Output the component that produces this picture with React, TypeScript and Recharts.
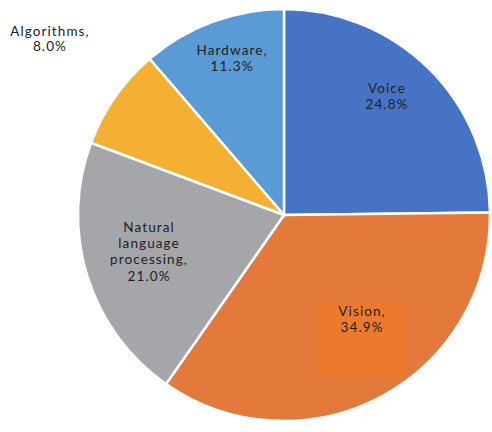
import { Pie, PieChart, Cell } from "recharts";

const CATEGORIES = ["Voice", "Vision", "Natural language processing", "Algorithms", "Hardware"];
const SHARES = [24.8, 34.9, 21.0, 8.0, 11.3];
const LABEL_LINES = [
  ["Voice", "24.8%"],
  ["Vision,", "34.9%"],
  ["Natural", "language", "processing,", "21.0%"],
  ["Algorithms,", "8.0%"],
  ["Hardware,", "11.3%"],
];

const COLORS = ["#4673c4", "#e4793c", "#a5a6aa", "#f4b032", "#5a9ad5"];

// centre of the label's first line, in units of the outer radius from the pie centre
const LABEL_POS = [
  [0.5, -0.617],
  [0.379, 0.466],
  [-0.655, 0.058],
  [-1.136, -0.893],
  [-0.252, -0.801],
];

const data = CATEGORIES.map((name, i) => ({ name, value: SHARES[i] }));

function renderLabel(props: any) {
  const { cx, cy, outerRadius, index } = props;
  const [fx, fy] = LABEL_POS[index];
  const x = cx + fx * outerRadius;
  const y = cy + fy * outerRadius;
  const lines = LABEL_LINES[index];
  const step = index === 3 ? 15 : 16.3;
  return (
    <g>
      {index === 1 && <rect x={x - 44} y={y - 8} width={87} height={75} fill="#ed7a2c" />}
      <text
        x={x}
        y={y}
        textAnchor="middle"
        fill="#222"
        fontSize={13.5}
        letterSpacing={1.1}
        fontFamily="Lato, sans-serif"
      >
        {lines.map((l, j) => (
          <tspan key={j} x={x} dy={j === 0 ? "0.35em" : step}>{l}</tspan>
        ))}
      </text>
    </g>
  );
}

export default function App() {
  return (
    <div style={{ position: "absolute", left: 0, top: 0, width: 492, height: 432, background: "#fff" }}>
      <PieChart width={492} height={432} margin={{ top: 0, right: 0, bottom: 0, left: 0 }}>
        <Pie
          data={data}
          dataKey="value"
          nameKey="name"
          cx={284}
          cy={215}
          outerRadius={206}
          startAngle={90}
          endAngle={-270}
          stroke="#fff"
          strokeWidth={2.5}
          label={renderLabel}
          labelLine={false}
          isAnimationActive={false}
        >
          {data.map((_, i) => <Cell key={i} fill={COLORS[i]} />)}
        </Pie>
      </PieChart>
    </div>
  );
}
